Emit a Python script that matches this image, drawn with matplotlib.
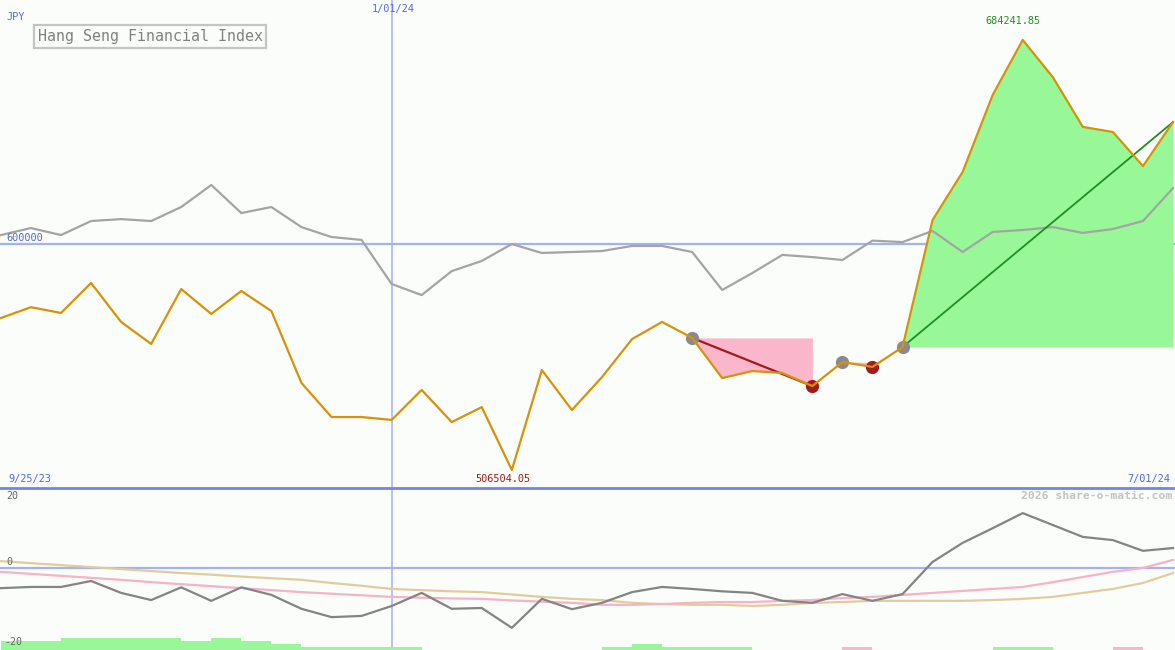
import matplotlib
matplotlib.use("Agg")
import matplotlib.pyplot as plt
import numpy as np

# ---------------- data ----------------
start_label = "9/25/23"
end_label = "7/01/24"
mid_label = "1/01/24"
mid_index = 13
currency = "JPY"
title = "Hang Seng Financial Index"
ref_level = 600000
max_label = "684241.85"
min_label = "506504.05"

index_price = [569326, 573800, 571400, 583800, 567700, 558600, 581300, 571000, 580500, 572200,
               542500, 528400, 528400, 527200, 539600, 526300, 532500, 506504.05, 547800, 531300,
               544900, 560600, 567700, 561100, 544500, 547400, 546600, 541200, 551100, 549100,
               557300, 609800, 629700, 661500, 684241.85, 668900, 648300, 646200, 632100, 650300]

compare_price = [603600, 606500, 603600, 609400, 610200, 609400, 615200, 624300, 612700, 615200,
                 606900, 602800, 601600, 583400, 578800, 588700, 592900, 599900, 596200, 596600,
                 597000, 599100, 599100, 596600, 580900, 587900, 595400, 594500, 593300, 601300,
                 600700, 605300, 596600, 604900, 605700, 606900, 604500, 606100, 609400, 623000]

momentum = [-5.2, -4.9, -4.9, -3.4, -6.4, -8.2, -5.0, -8.4, -5.0, -6.9,
            -10.4, -12.5, -12.2, -9.7, -6.4, -10.4, -10.2, -15.2, -7.9, -10.5,
            -8.9, -6.2, -4.9, -5.4, -6.0, -6.4, -8.4, -8.9, -6.7, -8.4,
            -6.7, 1.4, 6.2, 9.9, 13.7, 10.7, 7.7, 6.9, 4.2, 4.9]

ma_short = [-1.1, -1.6, -2.1, -2.6, -3.1, -3.7, -4.2, -4.7, -5.2, -5.7,
            -6.2, -6.6, -7.0, -7.4, -7.6, -7.8, -7.9, -8.3, -8.6, -8.9,
            -9.4, -9.4, -9.2, -8.9, -8.7, -8.7, -8.4, -8.2, -7.7, -7.4,
            -6.9, -6.4, -5.9, -5.4, -4.9, -3.7, -2.4, -1.1, -0.1, 1.9]

ma_long = [1.6, 1.1, 0.6, 0.1, -0.4, -0.9, -1.4, -1.8, -2.3, -2.7,
           -3.1, -3.9, -4.6, -5.4, -5.7, -6.0, -6.2, -6.8, -7.4, -7.9,
           -8.2, -8.9, -9.2, -9.4, -9.4, -9.7, -9.4, -8.9, -8.7, -8.4,
           -8.4, -8.4, -8.4, -8.2, -7.9, -7.4, -6.4, -5.4, -3.9, -1.4]

signal_bars = [3, 3, 4, 4, 4, 4, 3, 4, 3, 2,
               1, 1, 1, 1, 0, 0, 0, 0, 0, 0,
               1, 2, 1, 1, 1, 0, 0, 0, -1, 0,
               0, 0, 0, 1, 1, 0, 0, -1, 0, 0]

down_pattern = [23, 27]
down_pattern2 = [28, 29]
up_pattern = [30, 39]
gray_marks = [23, 28, 30]
red_marks = [27, 29]

# ---------------- style ----------------
W, H = 1175, 650
BG = "#fbfdfb"
ORANGE = "#d8920a"
GRAYLINE = "#a4a4a4"
BLUE_LINE = "#a4b2f2"
BLUE_TXT = "#5566e6"
SEP = "#7383ea"
GREEN_FILL = "#98f898"
PINK_FILL = "#fab6ca"
DARK_RED = "#a01c1c"
DARK_GREEN = "#1e8e1e"
MONO = "DejaVu Sans Mono"

fig = plt.figure(figsize=(W / 100, H / 100), dpi=100, facecolor=BG)

def fy(px):
    return 1 - px / H

main_top, main_bot = 0, 488
ax = fig.add_axes([0, fy(main_bot), 1, (main_bot - main_top) / H])
ax.set_facecolor(BG)
for s in ax.spines.values():
    s.set_visible(False)
ax.set_xticks([])
ax.set_yticks([])

x = np.arange(len(index_price))
xmax = 39 * 1175 / 1173
ax.set_xlim(-0.03, xmax)
ppx = 413.3
ax.set_ylim(506504.05 - (main_bot - 470) * ppx, 506504.05 + 470 * ppx)

ax.axhline(ref_level, color=BLUE_LINE, lw=1.6, zorder=1)
ax.axvline(mid_index, color=BLUE_LINE, lw=1.1, zorder=1)

ip = np.array(index_price)
# fills
a, b = down_pattern
ax.fill_between(x[a:b + 1], ip[a:b + 1], ip[a], color=PINK_FILL, lw=0, zorder=2)
a2, b2 = down_pattern2
ax.fill_between(x[a2:b2 + 1], ip[a2:b2 + 1], ip[a2], color=PINK_FILL, lw=0, zorder=2)
u0, u1 = up_pattern
ax.fill_between(x[u0:u1 + 1], ip[u0:u1 + 1], ip[u0], color=GREEN_FILL, lw=0, zorder=2)

ax.plot(x, compare_price, color=GRAYLINE, lw=1.6, zorder=3)
ax.plot([a, b], [ip[a], ip[b]], color=DARK_RED, lw=1.6, zorder=4)
ax.plot([u0, u1], [ip[u0], ip[u1]], color=DARK_GREEN, lw=1.3, zorder=4)
ax.plot(x, ip, color=ORANGE, lw=1.6, zorder=5)
ax.plot(gray_marks, ip[gray_marks], "o", color="#8a8a8a", ms=9.5, mec="none", zorder=4.5)
ax.plot(red_marks, ip[red_marks], "o", color=DARK_RED, ms=9.5, mec="none", zorder=4.5)

# texts (figure pixel coordinates)
def ftext(px, py, s, **kw):
    fig.text(px / W, fy(py), s, family=MONO, **kw)

ftext(6, 17, currency, color=BLUE_TXT, fontsize=7.4, ha="left", va="center")
ftext(393, 9, mid_label, color=BLUE_TXT, fontsize=7.4, ha="center", va="center")
ftext(6, 238, f"{ref_level}", color=BLUE_TXT, fontsize=7.4, ha="left", va="center")
ftext(8, 479, start_label, color=BLUE_TXT, fontsize=7.4, ha="left", va="center")
ftext(1170, 479, end_label, color=BLUE_TXT, fontsize=7.4, ha="right", va="center")
ftext(1013, 21, max_label, color="#229022", fontsize=7.4, ha="center", va="center")
ftext(503, 479, min_label, color=DARK_RED, fontsize=7.4, ha="center", va="center")
ftext(150, 36.5, title, color="#808080", fontsize=10.8, ha="center", va="center",
      bbox=dict(boxstyle="square,pad=0.25", fc=BG, ec="#c4c4c4", lw=1.6))
ftext(1172, 496, "2026 share-o-matic.com", color="#c4c4c4", fontsize=8.2,
      ha="right", va="center", weight="bold")

# separator line
fig.add_artist(plt.Line2D([0, 1], [fy(487.5), fy(487.5)], color=SEP, lw=2.0,
                          transform=fig.transFigure))

# ---------------- lower panel ----------------
lo_top, lo_bot = 489, 650
ax2 = fig.add_axes([0, 0, 1, (lo_bot - lo_top) / H])
ax2.set_facecolor(BG)
for s in ax2.spines.values():
    s.set_visible(False)
ax2.set_xticks([])
ax2.set_yticks([])
ax2.set_xlim(-0.03, xmax)
upx = 3.97
zero_px = 567.5
ymin2 = -(lo_bot - zero_px) / upx
ymax2 = (zero_px - lo_top) / upx
ax2.set_ylim(ymin2, ymax2)

ax2.axhline(0, color=BLUE_LINE, lw=1.6, zorder=1)
ax2.axvline(mid_index, color=BLUE_LINE, lw=1.1, zorder=1)

unit = 0.756
for i, v in enumerate(signal_bars):
    if v == 0:
        continue
    col = GREEN_FILL if v > 0 else PINK_FILL
    ax2.bar(i, abs(v) * unit, width=1.0, bottom=ymin2, align="edge",
            color=col, lw=0, zorder=2)

ax2.plot(x, ma_long, color="#e2cc9c", lw=1.6, zorder=3)
ax2.plot(x, ma_short, color="#f7b2c8", lw=1.6, zorder=3)
ax2.plot(x, momentum, color="#848484", lw=1.6, zorder=4)

ftext(6, 496, "20", color="#666666", fontsize=7.2, ha="left", va="center")
ftext(6, 562, "0", color="#666666", fontsize=7.2, ha="left", va="center")
ftext(4, 642, "-20", color="#666666", fontsize=7.2, ha="left", va="center")

fig.savefig("out.png", dpi=100, facecolor=BG)
